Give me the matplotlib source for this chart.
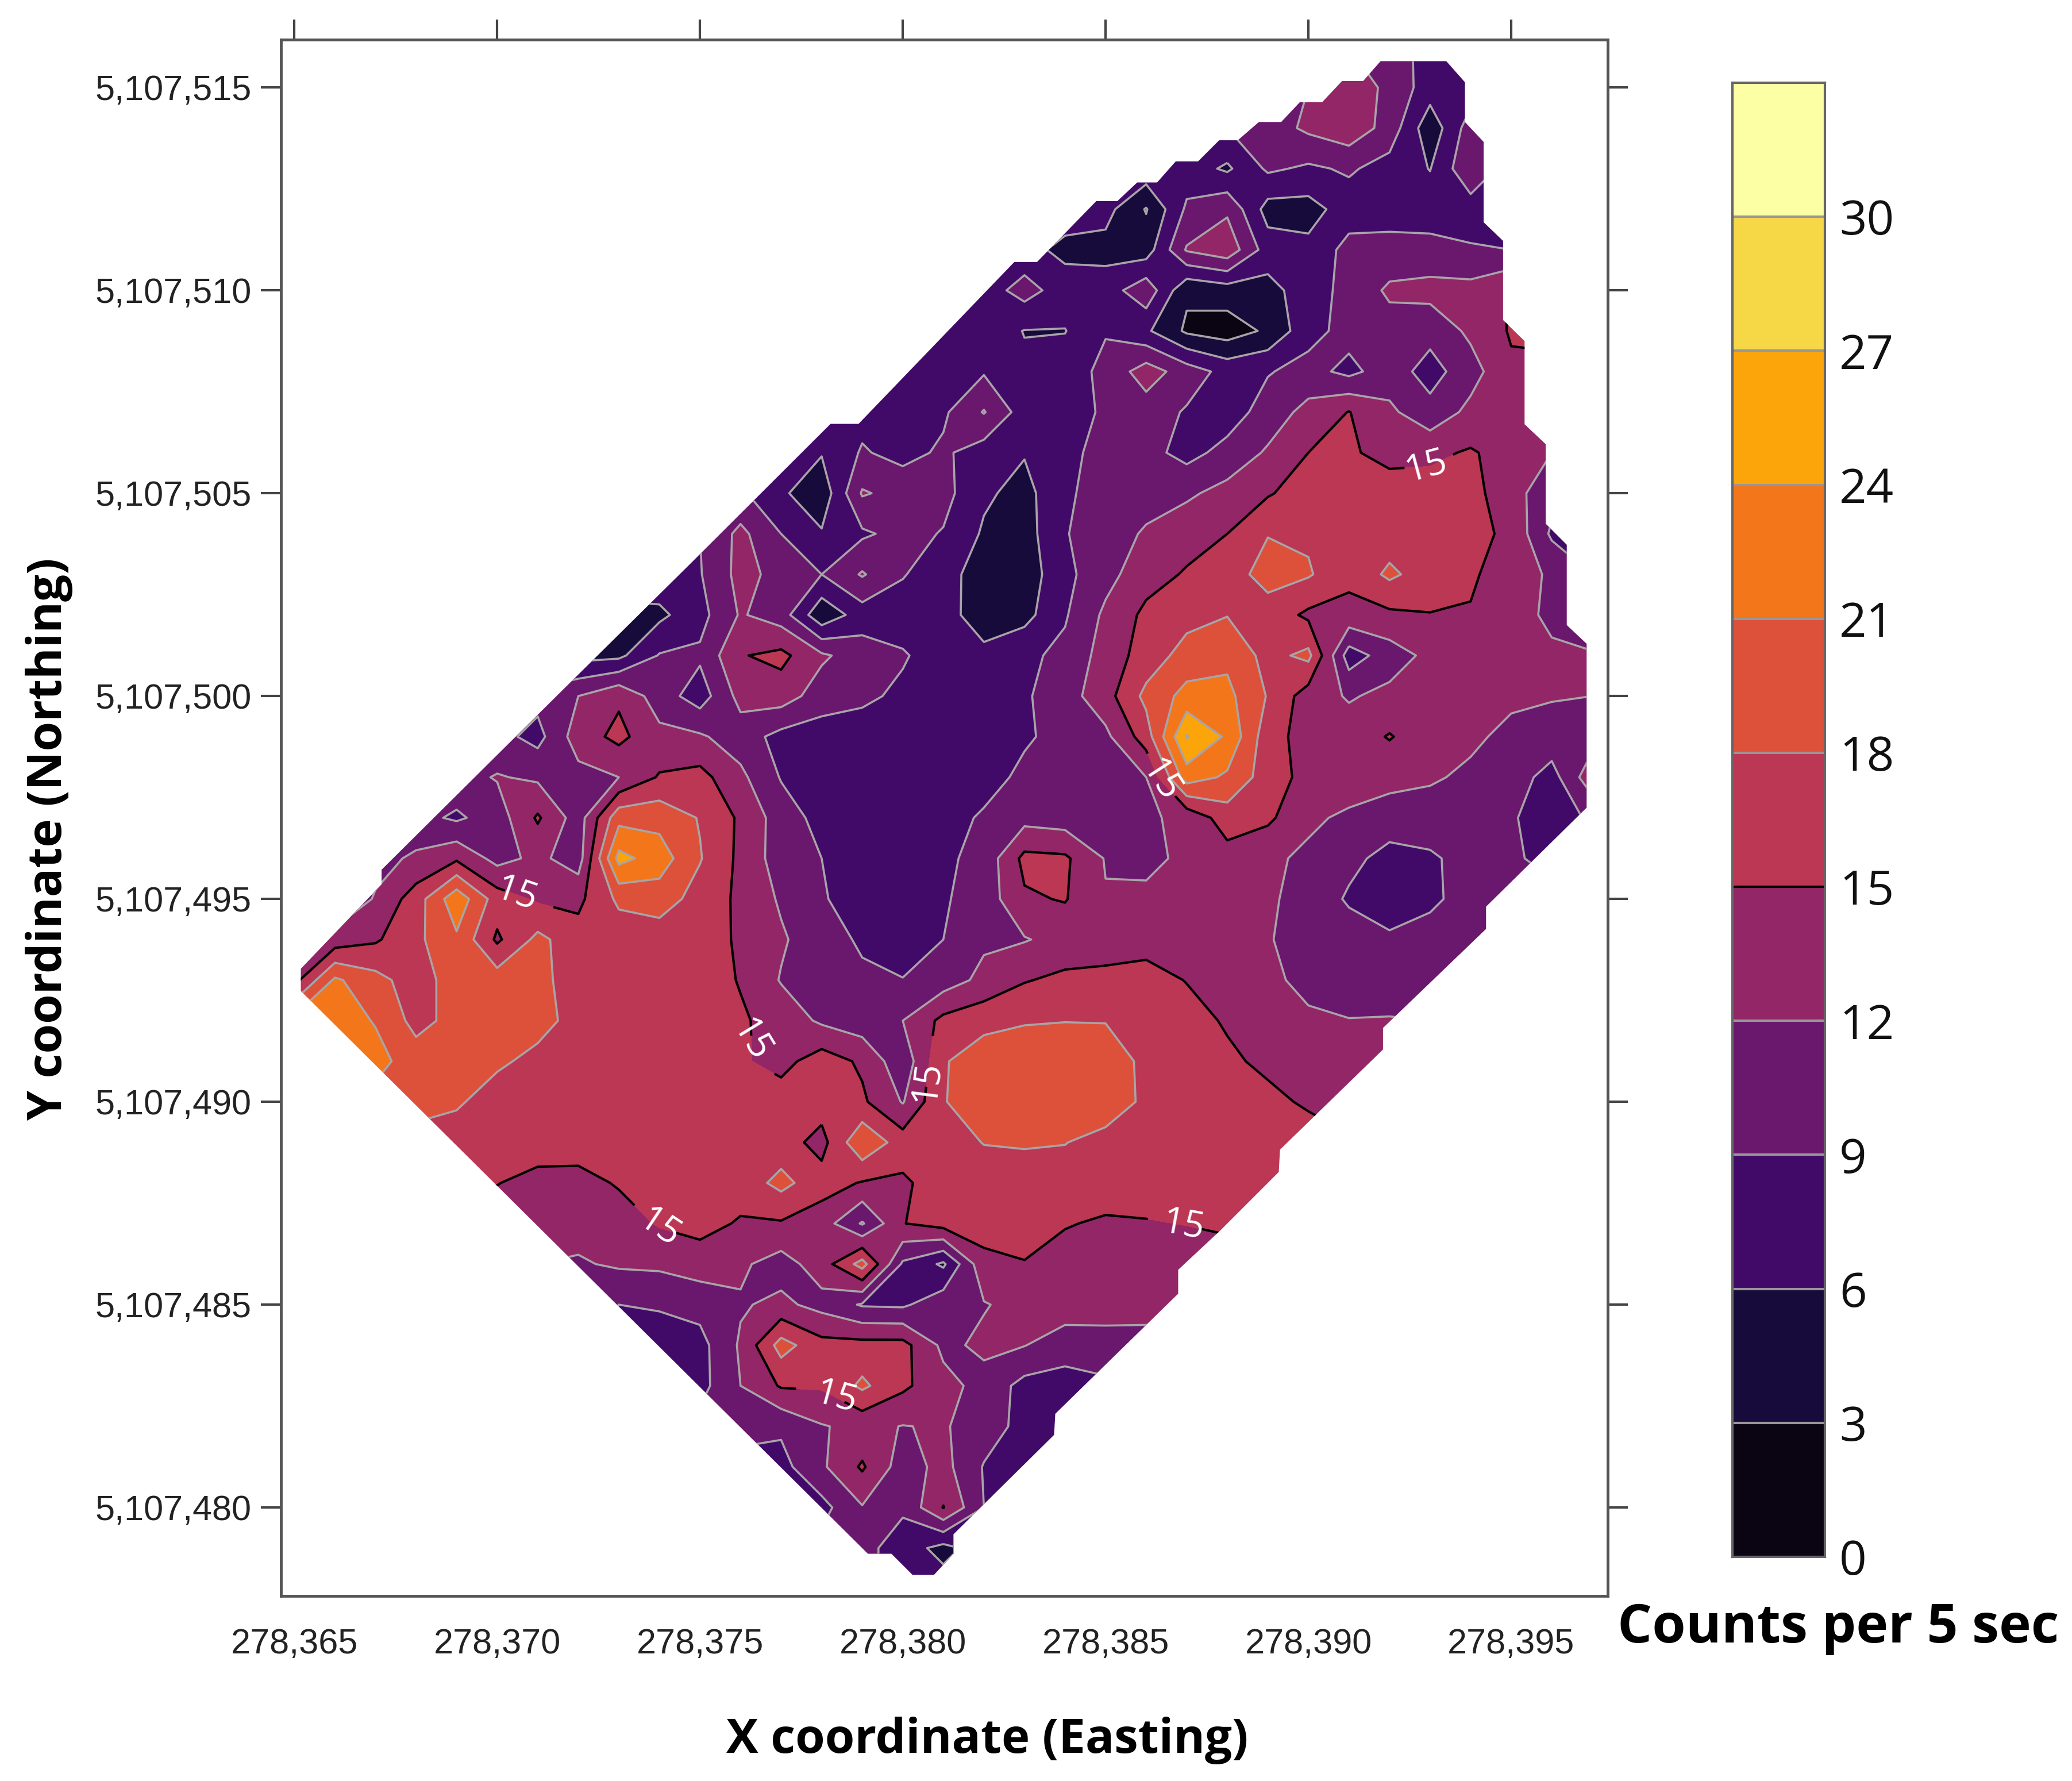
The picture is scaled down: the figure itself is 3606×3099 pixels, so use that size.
import numpy as np
import matplotlib
matplotlib.use("Agg")
import matplotlib.pyplot as plt
from matplotlib.colors import ListedColormap, BoundaryNorm
from matplotlib.patches import Polygon

# counts per 5 sec, 1 m grid
east = np.arange(278365, 278398)
north = np.arange(5107516, 5107477, -1)
counts = np.array([
[9,9,9,9,9,9,9,9,9,9,9,9,9,9,9,9,9,9,9,9,9,9,9,9,9,9,12,11,7.5,7.5,7.5,7.5,7.5],
[9,9,9,9,9,9,9,9,9,9,9,9,9,9,9,9,9,9,9,9,9,9,9,9,9,12,14,11.2,7.5,7.5,7.5,7.5,7.5],
[9,9,9,9,9,9,9,9,9,9,9,9,9,9,9,9,9,9,9,9,9,9,9,9,10.5,12.6,14,10.8,4,10.5,7.5,7.5,7.5],
[8,8,8,8,8,8,8,8,8,8,8,8,8,8,8,8,8,8,8,8,8,8,7.5,5.5,9.5,8.5,9.4,7.8,5.9,11.5,7.5,7.5,7.5],
[7.5,7.5,7.5,7.5,7.5,7.5,7.5,7.5,7.5,7.5,7.5,7.5,7.5,7.5,7.5,7.5,7.5,7.5,7.5,7.5,7,2.8,9.5,11.5,4.8,4.8,7.5,7.5,7.5,7.5,7.5,7.5,7.5],
[7.5,7.5,7.5,7.5,7.5,7.5,7.5,7.5,7.5,7.5,7.5,7.5,7.5,7.5,7.5,7.5,7.5,7.5,7,5.2,5,4.5,12.3,14,7.5,6.8,10,10.2,10,9.3,9,9,9],
[7.5,7.5,7.5,7.5,7.5,7.5,7.5,7.5,7.5,7.5,7.5,7.5,7.5,7.5,7.5,7.5,7.5,7.5,10.2,7.5,7.5,11,3.5,4.5,5,7.5,10,12.5,13,13,15.3,15.5,15.5],
[7.5,7.5,7.5,7.5,7.5,7.5,7.5,7.5,7.5,7.5,7.5,7.5,7.5,7.5,7.5,7.5,7.5,7.5,5.9,5.9,8.8,6.5,2.5,1.5,3.5,8,10,10.8,10,12.6,15.3,15.5,15.5],
[8,8,8,8,8,8,8,8,8,8,8,8,8,8,8,8,7.5,8.7,6.5,7.5,9.8,13.5,10.5,8,8.8,10,8.2,10.5,7.8,10.8,14.5,14.5,14.5],
[8,8,8,8,8,8,8,8,8,8,8,8,8,8,8,8,8.5,12.2,7.5,7.5,9.5,10.5,8.7,7.5,10.3,13,15.1,12.6,10,12.8,14,14,14],
[8,8,8,8,8,8,8,8,8,8,8,8,8,6.2,9.3,8,9.5,7.5,6.2,8.6,9.5,10,8,10,12.4,15,15.5,13.8,14.4,15.3,13.8,12,12],
[9.5,9.5,9.5,9.5,9.5,9.5,9.5,9.5,9.5,9.5,9.5,9.5,6.5,4,12.3,11,10,6.5,5,8.5,10.3,11,11.5,13,14.7,16.5,17,16.8,16.2,16,13.2,10,9],
[9,9,9,9,9,9,9,9,9,9,9,12.8,9,6.3,8.5,10,8.8,5.6,4.7,8.8,10.8,12.3,13.8,15,17.9,17.6,16.8,16.5,16.5,16,14.3,8.5,8],
[8,8,8,8,8,8,8,8,8,8,8.8,13,11,9,12.3,9.2,7.2,4.5,4.3,8.2,11,13.8,15.3,16.8,19,18.3,15.8,18.6,16.5,15.4,13.6,11.5,9],
[5,5,5,5,5,5,5,5,5,5.3,8,12.3,10.5,3.8,7.5,7.5,7.5,4,5,8.7,12.6,15.7,17,17.9,16.8,14.4,14,14.4,14.9,14.8,13,11.5,10.5],
[5,5,5,5,5,5,5,5,5.3,9.2,9.5,14.8,15.8,12.5,10.5,9.3,7.5,7,8.4,9.7,13.3,16.3,19.2,20.3,17,18.8,7.5,10.5,12.8,12.8,12.6,12.4,12.2],
[10,10,10,10,10,10,10,12,14.5,10.5,7.5,13,13.5,10.5,9.6,8.4,7.5,7.5,8.6,10.7,13.8,18.8,22,21.8,17.8,13.5,11.7,12.8,12.8,12.8,12.6,12.2,12],
[10,10,10,10,10,10,8,13.5,15.8,12.8,12.4,10.5,8,7.5,7.5,7.5,7.5,7.5,8.6,10,11.3,16.5,27.2,23.5,16.2,13.8,13.5,15.2,13.3,12.6,11.2,10.8,10.8],
[11,11,11,11,11,12.2,11.5,11,12,15.3,16,12.7,8.8,7.5,7.5,7.5,7.5,7.8,9.7,10.5,10.9,12,22.5,20.5,16.5,14,13.5,13,12.4,11.4,10.5,7.8,14],
[10,10,10,10,8.5,10.5,15.4,10.5,20,20,17.8,14.5,10.5,8,7.5,7.5,7.8,9.4,11,10.5,10.5,11.5,12.8,16.5,15.6,12.5,11.5,10.5,10.5,10.3,9.3,7.5,9.5],
[10,11,11,12.5,14.5,11,12.7,10.5,25,22.5,18.2,14.3,10.5,9,7.5,7.5,8.4,10,15.8,15.5,11.8,10.8,13,13.8,12.5,11.5,9.8,8,8.6,10,9.5,8,8],
[9,9,12.3,16.5,23,16.5,14.6,14.3,18.6,19.5,16.8,14.4,11.6,9.3,7.5,7.5,8.7,10.3,14.6,15.2,12.2,13,13.5,13.5,12.4,11,8.6,7.3,8.5,10,10,10,10],
[12,13.3,14.6,17.3,20.5,14.5,18.8,16.2,16.3,16.3,16.3,14.6,12.4,10.2,8.6,7.5,9,11.5,11.8,13,13.2,14,14,13.7,12.2,10.8,10.5,9.5,10,10.5,10,10,10],
[14,21.5,19,16.5,19.5,19.5,18.9,16.5,16.5,16.5,16.5,14.8,11.8,10.5,9.5,9.1,10.5,12.8,14.8,15.7,16,16,14.9,13.3,12.4,11.5,10.5,10.3,10.5,10.5,10,10,10],
[22,22.5,20.8,17,19,20,19,17,16.5,16.5,16.5,15.4,13.8,11.5,10.3,12,15.8,17,17.7,17.9,17.9,17,16,14.7,13.3,12.3,12.1,12.2,12,12,12,12,12],
[23,23,22,19.5,19.8,18.5,17.2,16.5,16.5,16.5,16.5,15.4,14,16.5,14.5,9.9,17.7,19.8,20.3,20.5,19.4,17.4,16.3,15.5,14.4,13,12.8,12.5,12.5,12.5,12.5,12.5,12.5],
[20,20,20,19.5,18.4,16.6,16.5,16.5,16.5,16.5,16.5,16.5,16.5,16.3,15.5,11.8,17.8,20,20.8,20.8,20,17.3,16.8,16.5,15.7,14.6,13,13,13,13,13,13,13],
[16.5,16.5,16.5,16.5,16.5,16.5,16.5,16.5,16.5,16.5,16.5,16.5,16.3,14,20.5,16.5,16.7,18.1,18.3,18.1,16.8,16.5,16.5,16.5,16.5,16.3,15.5,15.5,15.5,15.5,15.5,15.5,15.5],
[15,15,15,15,15,15.1,14,13.9,15.3,16.5,16.5,16.3,18.9,16.2,14.8,14.5,16.5,16.5,16.5,16.5,16.5,16.5,16.5,16.5,16.5,15.5,15.5,15.5,15.5,15.5,15.5,15.5,15.5],
[13.5,13.5,13.5,13.5,13.5,13.5,13.5,13,13.5,15.3,16,14.7,14.7,13.5,8.7,14.9,16.2,16.2,15.9,15.2,14.6,14.8,15.1,15.6,15,15,15,15,15,15,15,15,15],
[12,12,12,12,12,12,12,11.7,12.4,12.6,13.5,12.5,10.7,13.5,19.2,8.5,5.5,14.2,14.9,13.8,13.8,13.7,13.4,13.4,13.4,13.4,13.4,13.4,13.4,13.4,13.4,13.4,13.4],
[11,11,11,11,11,11,11,11,9,9.2,10,11.7,12.7,11,8.7,8.5,11,11.8,13,13.7,13.6,13.5,13.3,13,13,13,13,13,13,13,13,13,13],
[9,9,9,9,9,9,9,9,9,8,8,12.4,19.2,16,16,16,11.3,12.6,12.1,10.3,10.5,10.5,10.5,10.5,10.5,10.5,10.5,10.5,10.5,10.5,10.5,10.5,10.5],
[8,8,8,8,8,8,8,8,8,8,8,12,15.3,15.4,18.6,15.6,13,11,8,7.8,8.5,8.5,8.5,8.5,8.5,8.5,8.5,8.5,8.5,8.5,8.5,8.5,8.5],
[10,10,10,10,10,10,10,10,10,10,10,10,9.5,11.8,12.8,11.9,12.3,10.5,8,7.8,7.8,7.8,7.8,7.8,7.8,7.8,7.8,7.8,7.8,7.8,7.8,7.8,7.8],
[8,8,8,8,8,8,8,8,8,8,8,8,8,11.5,15.4,10.5,13,8.8,7.5,7.5,7.5,7.5,7.5,7.5,7.5,7.5,7.5,7.5,7.5,7.5,7.5,7.5,7.5],
[8,8,8,8,8,8,8,8,8,8,8,8,8,8,11.8,9.5,15.1,9,8,8,8,8,8,8,8,8,8,8,8,8,8,8,8],
[10,10,10,10,10,10,10,10,10,10,10,10,10,10,10,7.5,5,7.5,7.5,7.5,7.5,7.5,7.5,7.5,7.5,7.5,7.5,7.5,7.5,7.5,7.5,7.5,7.5],
[10,10,10,10,10,10,10,10,10,10,10,10,10,10,10,7.5,7.5,7.5,7.5,7.5,7.5,7.5,7.5,7.5,7.5,7.5,7.5,7.5,7.5,7.5,7.5,7.5,7.5],
])

# survey outline, metres from 278365 E / 5107478 N
edge_e = [0.16,0.16,2.15,2.15,6.12,9.74,13.22,13.91,17.75,18.31,19.77,20.29,20.78,21.27,21.73,22.28,22.8,23.26,23.78,24.33,24.79,25.34,25.83,26.35,26.78,28.4,28.86,28.86,29.32,29.32,29.8,29.8,30.33,30.33,30.85,30.85,31.37,31.37,31.86,31.86,29.38,29.38,26.84,26.84,24.3,24.27,22.83,21.79,21.79,18.76,18.73,16.25,16.25,15.77,15.24,14.72,14.14]
edge_n = [14.73,15.28,17.36,17.72,21.66,25.24,28.71,28.71,32.7,32.7,34.2,34.2,34.66,34.66,35.18,35.18,35.7,35.7,36.15,36.15,36.64,36.64,37.16,37.16,37.65,37.65,37.13,36.15,35.66,33.68,33.22,31.27,30.75,28.7,28.21,26.25,25.73,23.75,23.29,19.25,16.81,16.26,13.82,13.29,10.82,10.27,8.83,7.86,7.27,4.31,3.79,1.34,0.86,0.34,0.34,0.86,0.86]

levels = [0,3,6,9,12,15,18,21,24,27,30,33]
band_colors = ['#0a0413','#170b3b','#420a68','#6a176e','#932667','#bb3754','#dd513a','#f3771a','#fca50a','#f6d746','#fcffa4']
grey_levels = [3,6,9,12,18,21,24,27,30]

label_spots = [(278370.4,5107494.9),(278375.9,5107491.5),(278380.5,5107490.5),(278385.9,5107497.5),
               (278392.9,5107505.7),(278374.0,5107486.9),(278386.9,5107486.9),(278378.5,5107483.0)]

xticks = [278365,278370,278375,278380,278385,278390,278395]
yticks = [5107480,5107485,5107490,5107495,5107500,5107505,5107510,5107515]

W, H = 3606, 3099
fig = plt.figure(figsize=(W/100, H/100), dpi=100)
ax = fig.add_axes([489/W, 1-2777/H, (2798-489)/W, (2777-69)/H])

cmap = ListedColormap(band_colors)
norm = BoundaryNorm(levels, cmap.N)
fill = ax.contourf(east, north, counts, levels=levels, cmap=cmap, norm=norm)
lines = ax.contour(east, north, counts, levels=grey_levels, colors='#a8a4a8', linewidths=2.6)
black = ax.contour(east, north, counts, levels=[15], colors='#000000', linewidths=3)
ax.set_xlim(278364.67, 278397.38)
ax.set_ylim(5107477.82, 5107516.18)

outline = Polygon(np.column_stack([278365+np.array(edge_e), 5107478+np.array(edge_n)]),
                  transform=ax.transData, fc='none', ec='none')
ax.add_patch(outline)
fill.set_clip_path(outline)
lines.set_clip_path(outline)
black.set_clip_path(outline)

labs = ax.clabel(black, manual=label_spots, fmt='%d', colors='white', fontsize=46, inline=True, inline_spacing=4)
for t in labs:
    t.set_family('Open Sans')

ax.set_xticks(xticks)
ax.set_xticklabels([f"{v:,}" for v in xticks], fontsize=44, family='Liberation Sans', color='#222222')
ax.set_yticks(yticks)
ax.set_yticklabels([f"{v:,}" for v in yticks], fontsize=44, family='Liberation Sans', color='#222222')
ax.tick_params(axis='x', bottom=False, top=True, length=25, width=3, color='#444444', pad=15)
ax.tick_params(axis='y', left=True, right=True, length=25, width=3, color='#444444', pad=12)
for s in ax.spines.values():
    s.set_linewidth(3.5)
    s.set_color('#555555')

cax = fig.add_axes([3015/W, 1-2709/H, (3176-3015)/W, (2709-144)/H])
cax.pcolormesh([0,1], levels, np.arange(11).reshape(-1,1), cmap=cmap, vmin=-0.5, vmax=10.5)
cax.hlines(grey_levels, 0, 1, colors='#9a9598', linewidth=3)
cax.hlines([15], 0, 1, colors='#000000', linewidth=3)
cax.set_xlim(0,1)
cax.set_ylim(0,33)
cax.set_xticks([])
cax.yaxis.tick_right()
cax.set_yticks(list(range(0,31,3)))
cax.set_yticklabels([str(v) for v in range(0,31,3)], fontsize=60, family='Open Sans', color='#111111')
cax.tick_params(axis='y', length=0, pad=18)
for s in cax.spines.values():
    s.set_linewidth(3)
    s.set_color('#666666')

fig.text(1718/W, 1-3029/H, "X coordinate (Easting)", fontsize=60, fontweight='bold', family='Open Sans', ha='center', va='center')
fig.text(86/W, 1-1460/H, "Y coordinate (Northing)", fontsize=60, fontweight='bold', family='Open Sans', rotation=90, ha='center', va='center')
fig.text(3199/W, 1-2833/H, "Counts per 5 sec", fontsize=68, fontweight='bold', family='Open Sans', ha='center', va='center')

fig.savefig("out.png", dpi=100)
